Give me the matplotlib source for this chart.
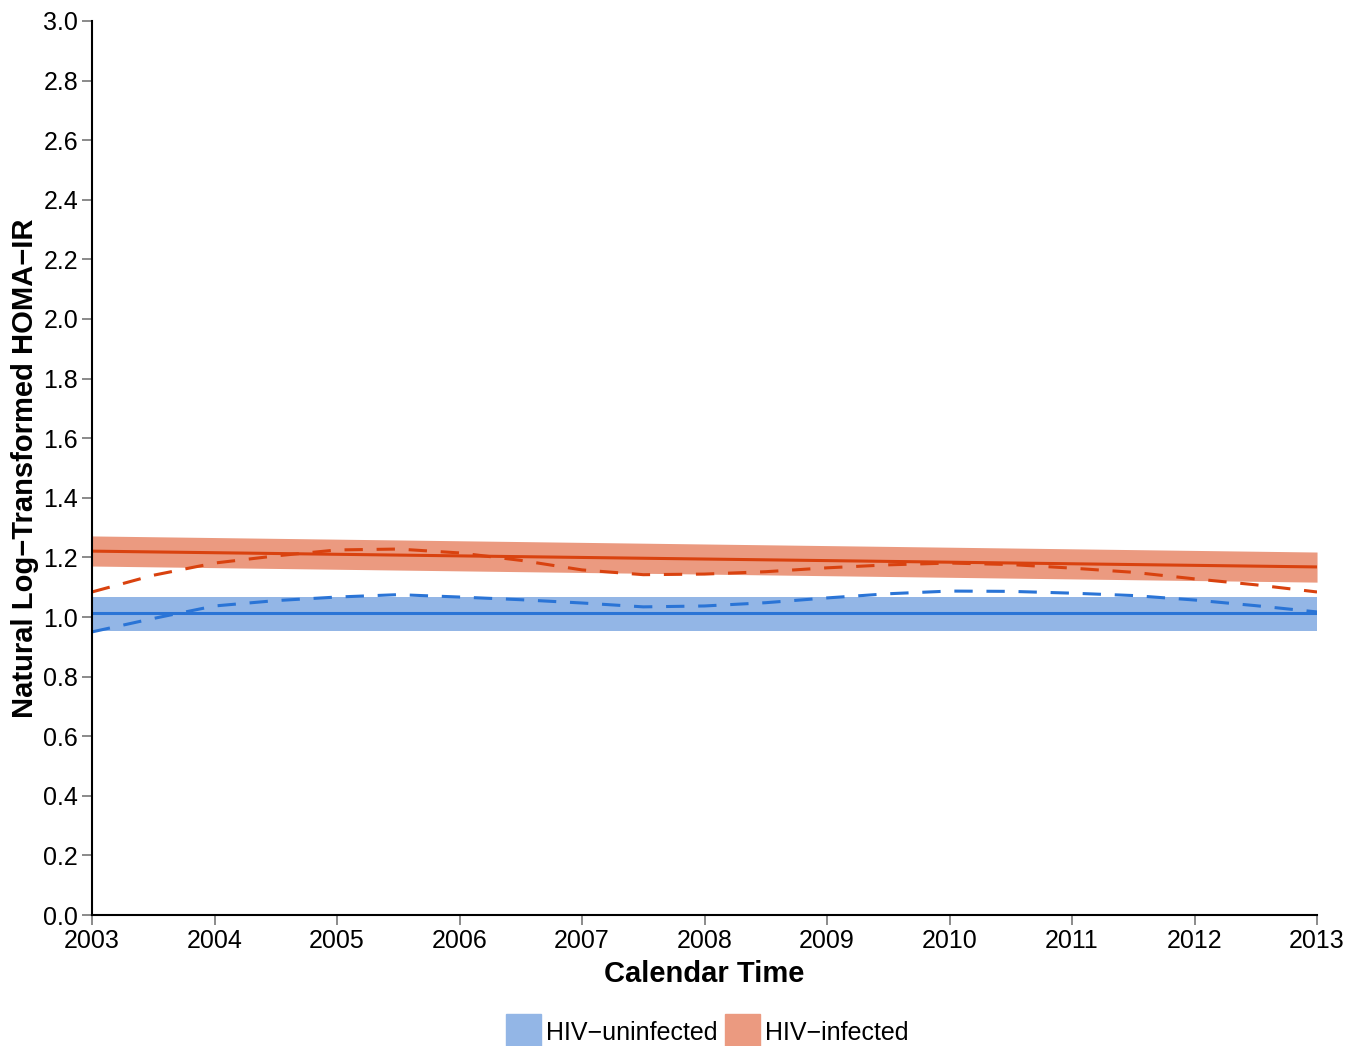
import matplotlib.pyplot as plt
import matplotlib.patches as mpatches
import numpy as np

plt.rcParams['font.family'] = ['Liberation Sans', 'DejaVu Sans']

# Fitted linear trends (solid lines) and confidence bands
years_fit = [2003, 2013]
inf_fit = [1.221, 1.168]
inf_lo = [1.171, 1.117]
inf_hi = [1.272, 1.218]
uninf_fit = [1.013, 1.013]
uninf_lo = [0.953, 0.953]
uninf_hi = [1.067, 1.067]

# Smoothed curves (dashed)
years = [2003, 2003.5, 2004, 2004.5, 2005, 2005.5, 2006, 2006.5, 2007, 2007.5,
         2008, 2008.5, 2009, 2009.5, 2010, 2010.5, 2011, 2011.5, 2012, 2012.5, 2013]
inf_smooth = [1.084, 1.140, 1.181, 1.205, 1.225, 1.228, 1.215, 1.190, 1.158, 1.142,
              1.144, 1.152, 1.165, 1.175, 1.181, 1.176, 1.164, 1.150, 1.128, 1.108, 1.084]
uninf_smooth = [0.950, 0.995, 1.037, 1.055, 1.067, 1.075, 1.067, 1.058, 1.047, 1.034,
                1.037, 1.048, 1.064, 1.078, 1.087, 1.086, 1.080, 1.072, 1.057, 1.038, 1.017]

red = '#d9420f'
red_band = '#eb9a80'
blue = '#2a74d6'
blue_band = '#93b6e6'

fig = plt.figure(figsize=(13.61, 10.46), dpi=100)
ax = fig.add_axes([0.0676, 0.1252, 0.9001, 0.8548])

ax.fill_between(years_fit, uninf_lo, uninf_hi, color=blue_band, lw=0)
ax.fill_between(years_fit, inf_lo, inf_hi, color=red_band, lw=0)
ax.plot(years_fit, uninf_fit, color=blue, lw=2.2)
ax.plot(years_fit, inf_fit, color=red, lw=2.2)
ax.plot(years, uninf_smooth, color=blue, lw=2.2, ls=(0, (6, 4.5)))
ax.plot(years, inf_smooth, color=red, lw=2.2, ls=(0, (6, 4.5)))

ax.set_xlim(2003, 2013)
ax.set_ylim(0, 3.0)
ax.set_xticks(range(2003, 2014))
ax.set_yticks(np.arange(0, 3.01, 0.2))
ax.set_yticklabels([f'{v:.1f}' for v in np.arange(0, 3.01, 0.2)])
ax.tick_params(axis='both', labelsize=18, length=7, width=1.2, color='#777777',
               direction='out', pad=3)

for s in ['top', 'right']:
    ax.spines[s].set_visible(False)
for s in ['left', 'bottom']:
    ax.spines[s].set_linewidth(1.5)

ax.set_xlabel('Calendar Time', fontsize=21, fontweight='bold', labelpad=5)
ax.set_ylabel('Natural Log\u2212Transformed HOMA\u2212IR', fontsize=21, fontweight='bold', labelpad=3)

handles = [mpatches.Patch(color=blue_band, label='HIV\u2212uninfected'),
           mpatches.Patch(color=red_band, label='HIV\u2212infected')]
fig.legend(handles=handles, loc='lower center', bbox_to_anchor=(0.52, -0.026), ncol=2,
           frameon=False, fontsize=18, handlelength=1.4, handleheight=1.9,
           handletextpad=0.2, columnspacing=0.3)

fig.savefig('out.png', dpi=100)
